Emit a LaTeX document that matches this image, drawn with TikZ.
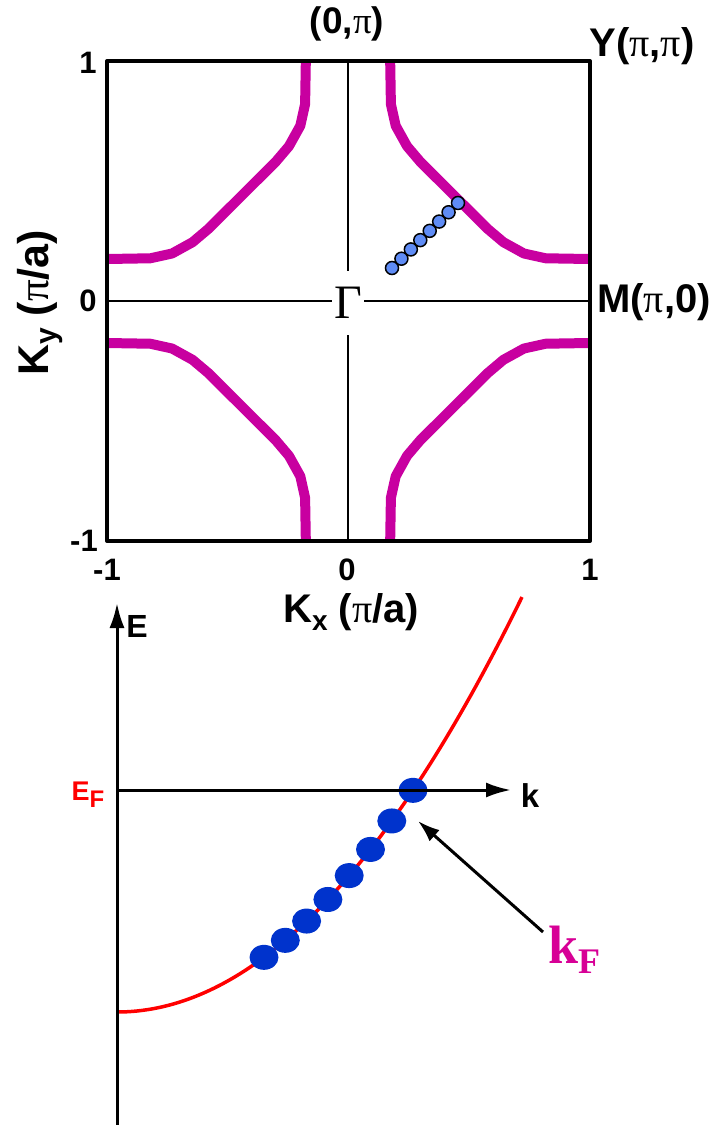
\documentclass[tikz,border=0pt]{standalone}
\usepackage{fontspec}
\setmainfont{Liberation Sans}
\newfontfamily\tnr{Liberation Serif}
\usetikzlibrary{arrows.meta,shapes.geometric}
\definecolor{fsmag}{RGB}{200,0,160}
\definecolor{kfmag}{RGB}{215,0,150}
\definecolor{dotblue}{RGB}{95,140,245}
\definecolor{ellblue}{RGB}{0,51,204}
\newcommand{\pisym}{{\tnr\mdseries π}}
\tikzset{
  lbl/.style={font=\bfseries\fontsize{40}{40}\selectfont, inner sep=0pt},
  tick/.style={font=\bfseries\fontsize{31}{31}\selectfont, inner sep=0pt},
  fscurve/.style={draw=fsmag, line width=10pt, line join=round},
  fsdot/.style={circle, draw=black, line width=1.5pt, fill=dotblue, minimum size=13pt, inner sep=0pt},
  elldot/.style={ellipse, fill=ellblue, minimum width=29pt, minimum height=25pt, inner sep=0pt},
  axisline/.style={draw=black, line width=3pt},
  arr/.style={-{Latex[length=25pt,width=15pt]}},
}
\begin{document}
\begin{tikzpicture}[x=1pt,y=-1pt]
\useasboundingbox (0,0) rectangle (714,1125);
% ---------- top panel ----------
\coordinate (bl) at (107,541);
\coordinate (tr) at (590,61);
\draw[line width=1.5pt] (107,301) -- (590,301);
\draw[line width=1.5pt] (348,61) -- (348,541);
\begin{scope}[shift={(348,301)}, x=241pt, y=240pt]
  \foreach \sx/\sy in {1/1,-1/1,1/-1,-1/-1}{
    \draw[fscurve, xscale=\sx, yscale=\sy]
      (0.175,1.0) -- (0.178,0.82) -- (0.198,0.73) -- (0.245,0.645) -- (0.30,0.58)
      -- (0.58,0.30) -- (0.645,0.245) -- (0.73,0.198) -- (0.82,0.178) -- (1.0,0.175);
  }
\end{scope}
\draw[line width=4pt, line join=round] (bl) rectangle (tr);
\node[fill=white, minimum width=32pt, minimum height=64pt, inner sep=0pt,
      font=\tnr\fontsize{48}{48}\selectfont] (gamma) at (348,303) {Γ};
\foreach \i in {0,...,7}{
  \node[fsdot] (d\i) at ({392+9.43*\i},{268-9.29*\i}) {};
}
\node[lbl, font=\bfseries\fontsize{37}{37}\selectfont] (zp) at (347,24) {(0,\pisym)};
\node[lbl] (ypp) at (642,46) {Y(\pisym,\pisym)};
\node[lbl] (mp) at (654,302) {M(\pisym,0)};
\node[lbl, rotate=90, font=\bfseries\fontsize{43}{43}\selectfont] (ky) at (40,303) {K\raisebox{-8pt}{\fontsize{30}{30}\selectfont y}\hspace{12pt}(\pisym/a)};
\node[lbl] (kx) at (351,612) {K\raisebox{-8pt}{\fontsize{28}{28}\selectfont x} (\pisym/a)};
\node[tick] (t1) at (88,63) {1};
\node[tick] (t0) at (88,301) {0};
\node[tick] (tm1) at (84,541) {-1};
\node[tick] (b1) at (107,570) {-1};
\node[tick] (b0) at (347,570) {0};
\node[tick] (b2) at (590,570) {1};
% ---------- bottom panel ----------
\coordinate (eb) at (117,1125);
\coordinate (et) at (117,603);
\coordinate (ko) at (117,790);
\coordinate (ke) at (511,790);
\draw[red, line width=3.5pt] plot[domain=117:522, samples=80] (\x, {1012-25.3*((\x-117)/100)^2});
\draw[axisline, arr] (eb) -- (et);
\foreach \x [count=\i] in {264,285.3,306.6,327.9,349.2,370.5,391.8,413}{
  \node[elldot] (e\i) at (\x, {1012-25.3*((\x-117)/100)^2}) {};
}
\draw[axisline, arr] (ko) -- (ke);
\node[font=\bfseries\fontsize{32}{32}\selectfont, inner sep=0pt] (elab) at (137,626) {E};
\node[font=\bfseries\fontsize{33}{33}\selectfont, inner sep=0pt] (klab) at (530,796) {k};
\node[font=\bfseries\fontsize{27}{27}\selectfont, text=red, inner sep=0pt] (ef) at (88,795)
  {E\raisebox{-7pt}{\fontsize{24}{24}\selectfont F}};
\node[font=\tnr\bfseries\fontsize{54}{54}\selectfont, text=kfmag, inner sep=0pt, anchor=base west] (kf) at (548,963)
  {k\raisebox{-10pt}{\fontsize{36}{36}\selectfont F}};
\coordinate (kfstart) at (543,932);
\coordinate (kftip) at (418,821);
\draw[line width=3pt, -{Latex[length=22pt,width=15pt]}] (kfstart) -- (kftip);
\end{tikzpicture}
\end{document}
